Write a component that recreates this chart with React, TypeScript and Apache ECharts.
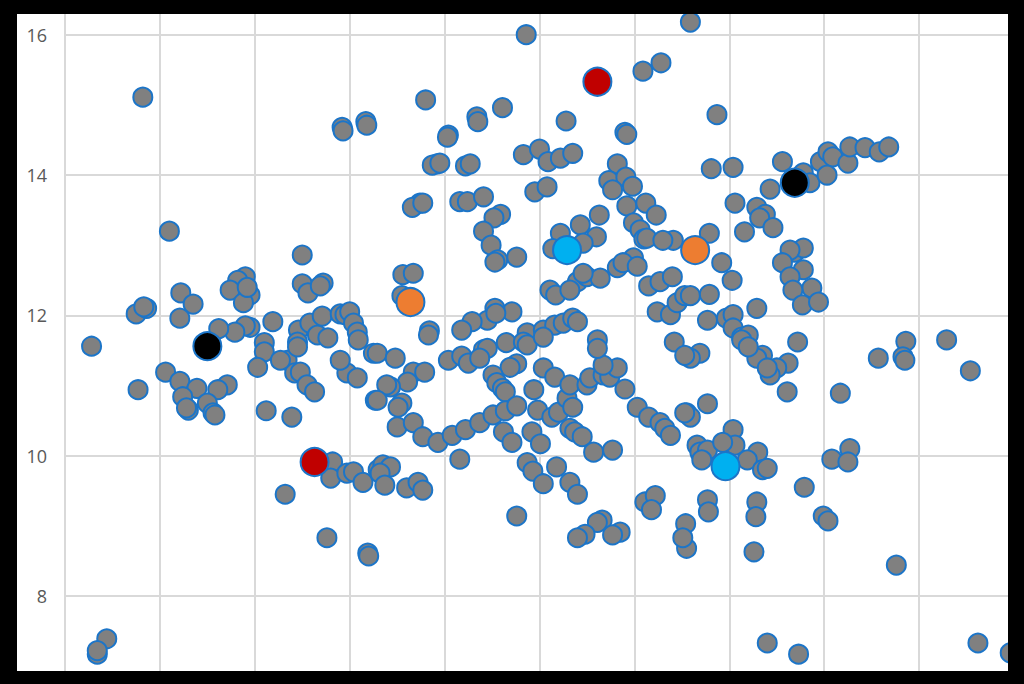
import React, { useEffect, useRef } from "react";
import * as echarts from "echarts";

// y-axis tick values (labels shown on the left)
const yTicks = [6, 8, 10, 12, 14, 16, 18];

// gray markers: [x, y]
const grayPoints: [number, number][] = [
  [0.82, 15.11], [0.28, 11.56], [1.10, 13.20], [0.75, 12.02], [0.86, 12.10], [0.83, 12.12],
  [1.22, 12.32], [1.35, 12.16], [1.21, 11.96], [1.90, 12.55], [1.82, 12.50], [1.74, 12.36],
  [1.95, 12.29], [1.88, 12.18], [1.92, 12.40], [2.19, 11.91], [2.50, 12.86], [2.50, 12.45],
  [2.56, 12.32], [2.72, 12.46], [2.69, 12.42], [2.92, 14.68], [2.93, 14.63], [3.17, 14.76],
  [3.18, 14.71], [2.46, 11.79], [2.45, 11.62], [2.58, 11.89], [2.66, 11.72], [2.71, 11.99],
  [2.77, 11.68], [2.90, 12.02], [2.95, 12.01], [3.00, 12.05], [3.04, 11.89], [3.08, 11.76],
  [3.09, 11.65], [1.95, 11.83], [1.90, 11.85], [1.79, 11.76], [1.62, 11.81], [2.10, 11.61],
  [0.77, 10.94], [1.06, 11.19], [1.21, 11.06], [1.39, 10.96], [1.71, 11.01], [1.61, 10.94],
  [1.24, 10.84], [1.30, 10.65], [1.50, 10.75], [1.56, 10.61], [1.58, 10.58], [1.28, 10.68],
  [2.10, 11.48], [2.03, 11.26], [2.12, 10.64], [2.39, 10.55], [2.34, 11.36], [2.42, 11.18],
  [2.48, 11.19], [2.55, 11.01], [2.63, 10.91], [2.45, 11.55], [2.27, 11.36], [2.97, 11.18],
  [3.08, 11.11], [2.90, 11.36], [3.25, 11.46], [3.27, 10.79], [2.82, 9.91], [2.80, 9.68],
  [2.97, 9.75], [3.04, 9.77], [3.14, 9.62], [3.30, 9.80], [2.32, 9.45], [2.76, 8.83],
  [3.19, 8.61], [3.20, 8.57], [0.44, 7.39], [0.34, 7.17], [0.34, 7.22],
  [4.86, 16.00], [6.09, 15.48], [6.28, 15.60], [6.59, 16.18], [3.80, 15.07], [4.61, 14.96],
  [4.34, 14.83], [4.35, 14.76], [5.28, 14.77], [5.90, 14.61], [5.92, 14.58], [4.04, 14.57],
  [4.03, 14.54], [3.92, 14.16], [3.87, 14.14], [3.95, 14.17], [4.22, 14.13], [4.27, 14.16],
  [4.83, 14.29], [5.00, 14.37], [5.09, 14.19], [5.22, 14.24], [5.35, 14.31], [5.82, 14.16],
  [5.73, 13.92], [5.91, 13.97], [5.98, 13.84], [5.77, 13.79], [4.95, 13.76], [5.08, 13.83],
  [3.74, 13.60], [3.66, 13.54], [3.77, 13.60], [4.16, 13.62], [4.24, 13.62], [4.41, 13.69],
  [4.59, 13.44], [4.52, 13.39], [4.41, 13.20], [4.49, 13.00], [4.56, 12.79], [4.76, 12.83],
  [4.53, 12.76], [5.92, 13.56], [6.12, 13.60], [6.23, 13.43], [5.99, 13.32], [6.06, 13.22],
  [6.10, 13.09], [6.13, 13.10], [5.63, 13.43], [5.43, 13.29], [5.22, 13.17], [5.60, 13.12],
  [5.46, 13.03], [5.24, 12.93], [5.14, 12.95], [6.41, 13.07], [6.30, 13.07], [5.99, 12.82],
  [5.82, 12.68], [5.88, 12.75], [6.03, 12.70], [3.56, 12.58], [3.67, 12.60], [3.55, 12.28],
  [3.84, 11.78], [5.11, 12.36], [5.17, 12.29], [5.40, 12.48], [5.50, 12.55], [5.64, 12.53],
  [5.32, 12.36], [5.46, 12.60], [6.15, 12.42], [6.27, 12.48], [6.40, 12.55], [6.24, 12.05],
  [6.38, 12.01], [6.45, 12.18], [6.53, 12.28], [4.71, 12.05], [4.53, 12.10], [4.45, 11.93],
  [4.29, 11.91], [4.18, 11.79], [4.54, 12.03], [4.87, 11.75], [5.04, 11.79], [5.16, 11.86],
  [5.25, 11.89], [5.35, 11.96], [5.40, 11.91], [5.61, 11.65],
  [6.87, 14.86], [6.81, 14.09], [7.04, 14.11], [7.56, 14.19], [7.78, 14.03], [7.85, 13.89],
  [7.43, 13.80], [7.96, 14.19], [8.04, 14.33], [8.09, 14.26], [8.03, 14.00], [8.25, 14.17],
  [8.27, 14.40], [8.43, 14.39], [8.58, 14.33], [8.68, 14.40], [7.06, 13.60], [7.29, 13.54],
  [7.38, 13.44], [7.32, 13.39], [7.46, 13.25], [7.16, 13.19], [6.79, 13.17], [6.92, 12.75],
  [7.03, 12.50], [6.59, 12.28], [6.79, 12.30], [7.29, 12.10], [6.77, 11.93], [6.97, 11.96],
  [7.04, 12.01], [7.04, 11.82], [7.13, 11.69], [7.20, 11.72], [7.69, 12.90], [7.78, 12.96],
  [7.64, 12.93], [7.56, 12.75], [7.78, 12.65], [7.64, 12.55], [7.87, 12.39], [7.67, 12.36],
  [7.77, 12.15], [7.94, 12.19], [7.72, 11.62], [8.86, 11.63], [9.29, 11.65],
  [8.57, 11.39], [8.83, 11.41], [8.85, 11.36], [9.54, 11.21], [8.17, 10.89], [7.61, 10.91],
  [7.62, 11.32], [7.50, 11.25], [7.43, 11.15], [7.35, 11.43], [7.29, 11.39], [7.13, 11.65],
  [7.20, 11.55], [6.69, 11.46], [6.59, 11.39], [7.40, 11.25], [6.77, 10.74], [6.55, 10.61],
  [6.59, 10.55], [7.04, 10.37], [7.06, 10.15], [6.66, 10.15], [6.69, 10.05], [6.77, 10.08],
  [7.30, 10.05], [7.19, 9.94], [7.35, 9.80], [7.40, 9.82], [6.93, 10.19], [6.71, 9.94],
  [8.08, 9.95], [8.27, 10.10], [8.25, 9.91], [7.79, 9.55], [6.77, 9.37], [6.78, 9.20],
  [7.29, 9.34], [7.28, 9.13], [6.54, 9.03], [6.55, 8.68], [6.51, 8.83], [7.26, 8.63],
  [7.99, 9.14], [8.04, 9.07], [8.76, 8.44], [7.40, 7.33], [7.73, 7.17], [9.62, 7.33],
  [9.96, 7.19],
  [3.83, 11.72], [3.29, 11.46], [3.48, 11.39], [4.04, 11.36], [4.18, 11.42], [4.25, 11.32],
  [4.41, 11.51], [4.45, 11.53], [4.65, 11.61], [4.83, 11.62], [4.87, 11.58], [5.04, 11.69],
  [4.37, 11.39], [4.76, 11.31], [4.69, 11.26], [4.51, 11.15], [4.55, 11.04], [4.61, 10.96],
  [4.64, 10.91], [3.67, 11.19], [3.79, 11.19], [3.61, 11.05], [3.43, 10.98], [3.39, 11.01],
  [3.29, 10.79], [3.55, 10.75], [3.51, 10.69], [3.50, 10.41], [3.67, 10.47], [3.77, 10.27],
  [3.93, 10.19], [4.08, 10.29], [4.22, 10.37], [4.37, 10.47], [4.51, 10.58], [4.64, 10.64],
  [4.76, 10.71], [4.94, 10.94], [4.98, 10.65], [5.04, 11.25], [5.16, 11.12], [4.62, 10.34],
  [4.71, 10.19], [4.92, 10.34], [5.01, 10.17], [5.13, 10.55], [5.20, 10.62], [5.29, 10.82],
  [5.32, 11.01], [5.35, 10.69], [5.50, 11.01], [5.53, 11.11], [5.67, 11.15], [5.74, 11.12],
  [5.82, 11.25], [5.67, 11.29], [5.90, 10.95], [5.61, 11.53], [5.32, 10.39], [5.37, 10.34],
  [5.45, 10.27], [5.57, 10.05], [5.77, 10.08], [6.03, 10.69], [6.15, 10.55], [6.27, 10.47],
  [6.32, 10.39], [6.38, 10.29], [6.42, 11.62], [6.53, 11.43], [6.53, 10.61], [4.16, 9.95],
  [3.35, 9.87], [3.43, 9.84], [3.32, 9.75], [3.37, 9.58], [3.60, 9.54], [3.72, 9.62],
  [3.77, 9.51], [4.87, 9.90], [4.93, 9.78], [5.04, 9.60], [5.18, 9.84], [5.32, 9.62],
  [5.40, 9.45], [4.76, 9.14], [6.11, 9.34], [6.22, 9.43], [6.18, 9.23], [5.66, 9.08],
  [5.61, 9.05], [5.85, 8.91], [5.77, 8.87], [5.48, 8.88], [5.40, 8.83],
];

// highlighted markers
const redPoints: [number, number][] = [[2.63, 9.91], [5.61, 15.33]];
const orangePoints: [number, number][] = [[3.64, 12.19], [6.64, 12.93]];
const cyanPoints: [number, number][] = [[5.29, 12.93], [6.96, 9.85]];
const blackPoints: [number, number][] = [[1.50, 11.56], [7.69, 13.89]];

const BORDER = "#1C75C8";
const GRID = "#d9d9d9";

function hl(name: string, data: [number, number][], color: string, z: number) {
  return {
    name,
    type: "scatter",
    data,
    symbol: "circle",
    symbolSize: 28,
    z,
    itemStyle: { color, borderColor: BORDER, borderWidth: 2, opacity: 1 },
  };
}

export default function App() {
  const ref = useRef<HTMLDivElement>(null);
  useEffect(() => {
    if (!ref.current) return;
    const chart = echarts.init(ref.current, undefined, { renderer: "svg" });
    chart.setOption({
      animation: false,
      backgroundColor: "#ffffff",
      grid: {
        left: 65,
        right: 10,
        top: -105.6,
        bottom: -52.3,
        containLabel: false,
        outerBoundsMode: "none",
      },
      xAxis: {
        type: "value",
        min: 0,
        max: 10,
        interval: 1,
        axisLabel: { show: false },
        axisTick: { show: false },
        axisLine: { show: false },
        splitLine: { show: true, lineStyle: { color: GRID, width: 2 } },
      },
      yAxis: {
        type: "value",
        min: yTicks[0],
        max: yTicks[yTicks.length - 1],
        interval: 2,
        axisTick: { show: false },
        axisLine: { show: true, lineStyle: { color: GRID, width: 2 } },
        axisLabel: {
          color: "#595959",
          fontSize: 18,
          fontFamily: "Open Sans",
          margin: 18,
          showMinLabel: false,
          showMaxLabel: false,
        },
        splitLine: { show: true, lineStyle: { color: GRID, width: 2 } },
      },
      series: [
        {
          name: "data",
          type: "scatter",
          data: grayPoints,
          symbol: "circle",
          symbolSize: 19,
          z: 2,
          itemStyle: { color: "#808080", borderColor: BORDER, borderWidth: 2, opacity: 1 },
        },
        hl("red", redPoints, "#C00000", 3),
        hl("orange", orangePoints, "#ED7D31", 3),
        hl("cyan", cyanPoints, "#00B0F0", 3),
        hl("black", blackPoints, "#000000", 3),
      ],
    });
    return () => chart.dispose();
  }, []);

  return (
    <div
      style={{
        position: "fixed",
        left: 0,
        top: 0,
        width: 1024,
        height: 684,
        background: "#000",
        overflow: "hidden",
      }}
    >
      <div
        style={{
          position: "absolute",
          left: 17,
          top: 14,
          width: 991,
          height: 657,
          overflow: "hidden",
          background: "#fff",
        }}
      >
        <div
          ref={ref}
          style={{ position: "absolute", left: -17, top: -14, width: 1024, height: 684 }}
        />
      </div>
    </div>
  );
}
